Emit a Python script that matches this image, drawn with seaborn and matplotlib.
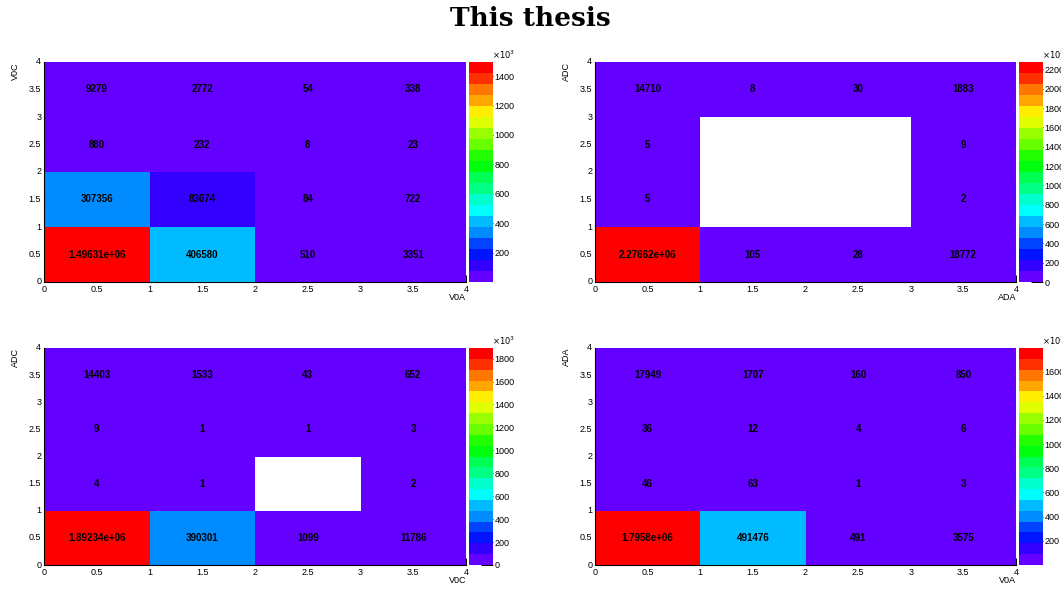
import colorsys
import numpy as np
import matplotlib
matplotlib.use("Agg")
import matplotlib.pyplot as plt
from matplotlib.colors import ListedColormap
from matplotlib.ticker import MultipleLocator
import seaborn as sns

# Bin contents, rows = y bins (bottom to top), columns = x bins (left to right)
v0a_v0c = [
    [1496310, 406580, 510, 3351],
    [307356, 83674, 84, 722],
    [880, 232, 8, 23],
    [9279, 2772, 54, 338],
]
ada_adc = [
    [2276620, 105, 28, 18772],
    [5, 0, 0, 2],
    [5, 0, 0, 9],
    [14710, 8, 30, 1883],
]
v0c_adc = [
    [1892340, 390301, 1099, 11786],
    [4, 1, 0, 2],
    [9, 1, 1, 3],
    [14403, 1533, 43, 652],
]
v0a_ada = [
    [1795800, 491476, 491, 3575],
    [46, 63, 1, 3],
    [36, 12, 4, 6],
    [17949, 1707, 160, 850],
]

x_titles = ["V0A", "ADA", "V0C", "V0A"]
y_titles = ["V0C", "ADC", "ADC", "ADA"]
panels = [v0a_v0c, ada_adc, v0c_adc, v0a_ada]
axis_ticks = [0, 0.5, 1, 1.5, 2, 2.5, 3, 3.5, 4]
title = "This thesis"

sns.set_style("white")
plt.rcParams["font.family"] = ["Liberation Sans", "DejaVu Sans"]
plt.rcParams["text.color"] = "black"
plt.rcParams["axes.labelcolor"] = "black"
plt.rcParams["xtick.color"] = "black"
plt.rcParams["ytick.color"] = "black"

# 50-colour "pretty" rainbow palette, sampled on 20 contour levels
pretty = []
for i in range(50):
    hue = 280.0 - (i + 1) * (280.0 / 50)
    pretty.append(colorsys.hls_to_rgb(hue / 360.0, 0.5, 1.0))
levels = [pretty[int((j + 0.99) * 50 / 20)] for j in range(20)]
cmap = ListedColormap(levels)

W, H = 1061, 592
fig = plt.figure(figsize=(W / 100, H / 100), dpi=100)

# panel frames in pixels: left, top, width, height
frames = [
    (44, 62, 422, 220),
    (595, 62, 421, 220),
    (44, 348, 422, 217),
    (595, 348, 421, 217),
]

for data, xt, yt, (l, t, w, h) in zip(panels, x_titles, y_titles, frames):
    arr = np.array(data, dtype=float)
    ax = fig.add_axes([l / W, 1 - (t + h) / H, w / W, h / H])
    cax = fig.add_axes([(l + w + 2.5) / W, 1 - (t + h) / H, 24 / W, h / H])
    vmin, vmax = arr.min(), arr.max()
    sns.heatmap(
        arr, ax=ax, cbar_ax=cax, cmap=cmap, vmin=vmin, vmax=vmax,
        mask=(arr == 0), annot=True, fmt="g",
        annot_kws={"fontsize": 7, "fontweight": "bold", "color": "black"},
    )
    ax.set_ylim(0, 4)
    ax.set_xlim(0, 4)
    ax.set_xticks(axis_ticks)
    ax.set_xticklabels([f"{v:g}" for v in axis_ticks], rotation=0)
    ax.set_yticks(axis_ticks)
    ax.set_yticklabels([f"{v:g}" for v in axis_ticks], rotation=0)
    ax.xaxis.set_minor_locator(MultipleLocator(0.1))
    ax.yaxis.set_minor_locator(MultipleLocator(0.1))
    ax.tick_params(axis="both", which="both", direction="in", colors="black",
                   labelsize=6.5, width=0.7, left=True, bottom=True)
    ax.tick_params(axis="y", which="major", length=9, pad=2)
    ax.tick_params(axis="y", which="minor", length=4.5)
    ax.tick_params(axis="x", which="major", length=4.7, pad=2)
    ax.tick_params(axis="x", which="minor", length=2.4)
    for side in ("left", "bottom"):
        ax.spines[side].set_visible(True)
        ax.spines[side].set_color("black")
        ax.spines[side].set_linewidth(0.8)
    for side in ("top", "right"):
        ax.spines[side].set_visible(False)
    ax.set_xlabel(xt, fontsize=6.5, loc="right", color="black")
    ax.xaxis.set_label_coords(1.0, -0.05)
    ax.xaxis.label.set_va("top")
    ax.set_ylabel(yt, fontsize=6.5, loc="top", color="black")
    ax.yaxis.set_label_coords(-24 / w, 1.0)

    cbar = ax.collections[0].colorbar
    cbar.outline.set_visible(False)
    ticks = [v for v in range(0, int(vmax) + 1, 200000) if v >= vmin]
    cbar.set_ticks(ticks)
    cbar.set_ticklabels([f"{v // 1000:d}" for v in ticks])
    cax.tick_params(direction="in", length=9, width=0.7, pad=1.5,
                    labelsize=6.5, right=True, colors="black")
    cax.text(1.0, 1.005, r"$\times10^{3}$", transform=cax.transAxes,
             fontsize=6, ha="left", va="bottom", color="black")

fig.text(0.5, 1 - 18 / H, title, ha="center", va="center", color="black",
         fontsize=19, fontweight="bold", family=["DejaVu Serif"])

fig.savefig("out.png", dpi=100)
